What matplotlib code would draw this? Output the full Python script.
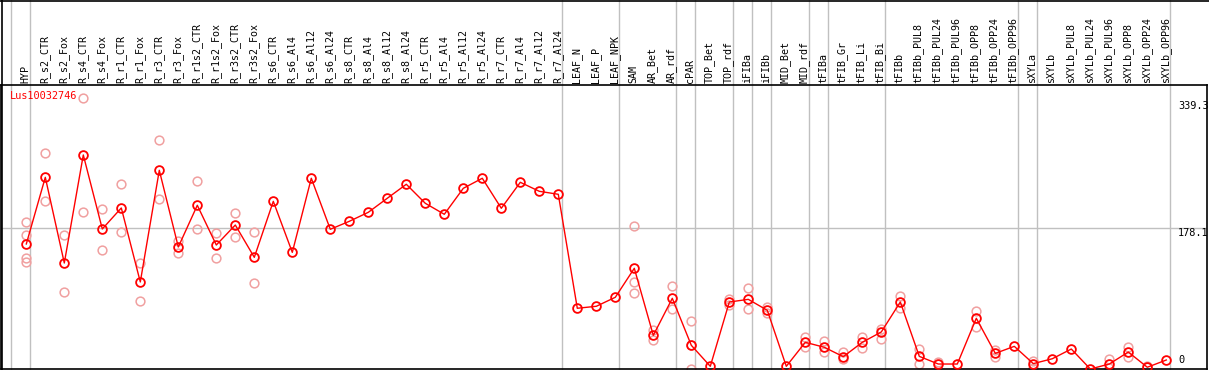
import numpy as np
import matplotlib
matplotlib.use("Agg")
import matplotlib.pyplot as plt
from matplotlib.lines import Line2D

# ---------------- data ----------------
gene = "Lus10032746"
samples = ["HYP",
           "R_s2_CTR", "R_s2_Fox", "R_s4_CTR", "R_s4_Fox", "R_r1_CTR", "R_r1_Fox",
           "R_r3_CTR", "R_r3_Fox", "R_r1s2_CTR", "R_r1s2_Fox", "R_r3s2_CTR", "R_r3s2_Fox",
           "R_s6_CTR", "R_s6_Al4", "R_s6_Al12", "R_s6_Al24",
           "R_s8_CTR", "R_s8_Al4", "R_s8_Al12", "R_s8_Al24",
           "R_r5_CTR", "R_r5_Al4", "R_r5_Al12", "R_r5_Al24",
           "R_r7_CTR", "R_r7_Al4", "R_r7_Al12", "R_r7_Al24",
           "LEAF_N", "LEAF_P", "LEAF_NPK", "SAM", "AR_Bet", "AR_rdf", "cPAR",
           "TOP_Bet", "TOP_rdf", "iFIBa", "iFIBb", "MID_Bet", "MID_rdf",
           "tFIBa", "tFIB_Gr", "tFIB_Li", "tFIB_Bi",
           "tFIBb", "tFIBb_PUL8", "tFIBb_PUL24", "tFIBb_PUL96",
           "tFIBb_OPP8", "tFIBb_OPP24", "tFIBb_OPP96",
           "sXYLa", "sXYLb", "sXYLb_PUL8", "sXYLb_PUL24", "sXYLb_PUL96",
           "sXYLb_OPP8", "sXYLb_OPP24", "sXYLb_OPP96"]

means = [158.3,
         242.7, 134.2, 271.0, 177.3, 203.9, 110.2,
         251.6, 154.5, 207.3, 157.0, 182.3, 141.4,
         212.3, 147.7, 241.5, 176.9,
         187.0, 198.4, 216.2, 233.9,
         209.8, 195.9, 228.8, 241.5,
         203.5, 236.4, 225.0, 221.2,
         76.9, 79.4, 90.8, 127.5, 42.6, 89.5, 30.0,
         3.4, 84.8, 88.2, 74.3, 3.4, 33.8,
         27.5, 15.6, 33.8, 46.9,
         84.8, 16.0, 6.3, 6.3,
         64.2, 19.8, 28.7,
         6.8, 13.0, 25.3, 0.0, 6.3,
         21.5, 2.2, 11.4]

replicates = [[185.7, 169.7, 140.2, 135.9],
              [273.1, 212.7], [169.7, 97.5], [343.2, 198.4], [202.6, 150.3],
              [233.9, 173.1], [134.2, 86.1],
              [289.6, 215.3], [162.5, 147.3], [238.1, 176.9], [171.8, 140.2],
              [197.2, 166.8], [173.1, 108.9],
              [], [], [], [],
              [], [], [], [],
              [], [], [], [],
              [], [], [], [],
              [], [], [], [180.7, 109.8, 96.2], [49.4, 36.7], [104.7, 75.6],
              [60.4, 30.0, 0.0],
              [], [89.0, 80.7], [102.2, 75.6], [78.9, 71.3], [], [40.9, 27.5],
              [35.0, 21.9], [21.5, 13.0], [40.9, 26.2], [51.0, 37.6],
              [92.4, 77.2], [25.3, 6.8], [9.3], [],
              [73.4, 53.6], [24.0, 15.6], [],
              [10.5, 0.9], [], [], [], [13.0, 0.9],
              [28.2, 14.8], [3.8], []]

# last sample of each group (vertical separators)
group_ends = ["HYP", "R_r7_Al24", "LEAF_NPK", "AR_rdf", "cPAR", "TOP_rdf",
              "iFIBa", "iFIBb", "MID_rdf", "tFIBa", "tFIB_Bi", "tFIBb_OPP96",
              "sXYLa", "sXYLb_OPP96"]
y_ticks = [339.3, 178.1, 0]

# ---------------- layout ----------------
W, H = 1209, 370
fig = plt.figure(figsize=(W / 100, H / 100), dpi=100)
top_px, bot_px, left_px, right_px = 85, 369, 1, 1207
ax = fig.add_axes([left_px / W, (H - bot_px) / H,
                   (right_px - left_px) / W, (bot_px - top_px) / H])

x = np.arange(len(samples))
step, x0 = 19.0, 26.3
ax.set_xlim((left_px - x0) / step, (right_px - x0) / step)
ax.set_ylim(0, 359.6)
ax.set_xticks([])
ax.set_yticks([])
for s in ax.spines.values():
    s.set_color("black")
    s.set_linewidth(1.2)

red = "#ff0000"
pink = "#f0a0a0"
grid = "#c0c0c0"
mono = "DejaVu Sans Mono"

# grid lines (vertical ones run through the header too)
ext = 1 + top_px / (bot_px - top_px)
ax.axhline(y_ticks[1], color=grid, lw=1.0, zorder=1)
ax.axvline(-0.8, ymin=0, ymax=ext, color=grid, lw=1.0, clip_on=False, zorder=1)
for name in group_ends:
    ax.axvline(samples.index(name) + 0.21, ymin=0, ymax=ext, color=grid,
               lw=1.0, clip_on=False, zorder=1)

# replicates
for i, reps in enumerate(replicates):
    if reps:
        ax.plot([i] * len(reps), reps, "o", ms=6.3, mfc="none", mec=pink,
                mew=1.1, zorder=2)

# mean line
ax.plot(x, means, "-", color=red, lw=1.0, zorder=3)
ax.plot(x, means, "o", ms=6.3, mfc="none", mec=red, mew=1.3, zorder=4)

# header labels
for i, name in enumerate(samples):
    ax.text(i - 0.05, 1.0, name, rotation=90, ha="center", va="bottom",
            fontsize=7.2, family=mono, transform=ax.get_xaxis_transform(),
            clip_on=False)
    # small offset above line
for t in ax.texts:
    t.set_y(1.0 + 2 / (bot_px - top_px))

# gene label
ax.text(9 / (right_px - left_px), 1 - 6 / (bot_px - top_px), gene, color=red,
        fontsize=7.4, family=mono, ha="left", va="top", transform=ax.transAxes)

# y value labels
tx = (1178 - left_px) / (right_px - left_px)
trans = ax.get_yaxis_transform()
for v in y_ticks:
    if v == 0:
        ax.text(tx, v + 4 / 0.79, "0", fontsize=7.4, family=mono, ha="left",
                va="bottom", transform=ax.get_yaxis_transform())
    else:
        ax.text(tx, v, f"{v}", fontsize=7.4, family=mono, ha="left", va="top",
                transform=ax.get_yaxis_transform())

# figure borders
fig.add_artist(Line2D([0, 1], [1 - 0.5 / H, 1 - 0.5 / H], color="black", lw=1.2))
fig.add_artist(Line2D([1.5 / W, 1.5 / W], [0, 1], color="black", lw=1.2))

fig.savefig("out.png", dpi=100)
